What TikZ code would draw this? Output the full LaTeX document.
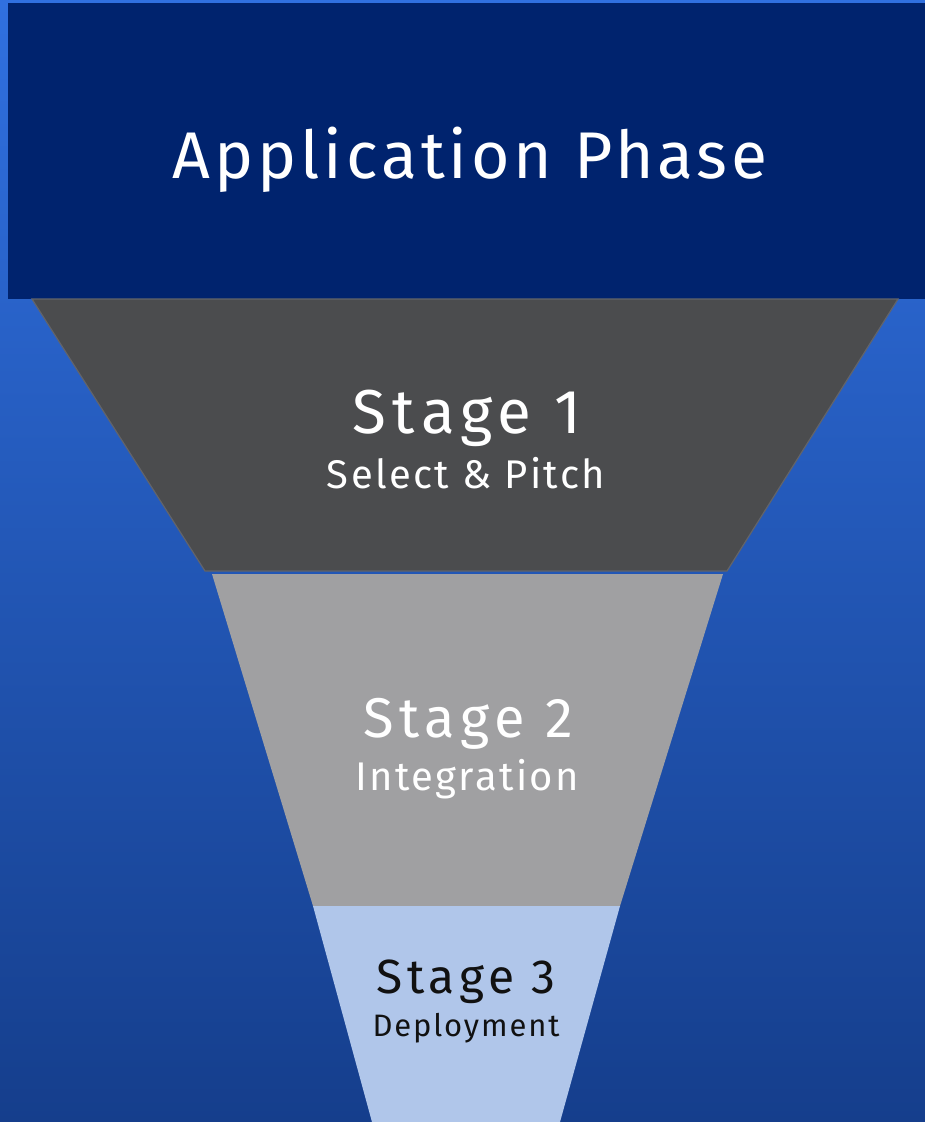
\documentclass[tikz,border=0pt]{standalone}
\usepackage{fontspec}
\setmainfont{Fira Sans}
\newfontfamily\funnelfont[LetterSpace=6]{Fira Sans}
\newfontfamily\stagefont[LetterSpace=10]{Fira Sans}
\usetikzlibrary{positioning}

\definecolor{bgtop}{HTML}{3070E0}
\definecolor{bgbottom}{HTML}{153E8C}
\definecolor{phase}{HTML}{00236E}
\definecolor{stageone}{HTML}{4B4C4E}
\definecolor{stageoneline}{HTML}{62646A}
\definecolor{stagetwo}{HTML}{A0A0A2}
\definecolor{stagethree}{HTML}{B0C6EA}
\definecolor{darktext}{HTML}{111111}

\begin{document}
\begin{tikzpicture}[x=1pt, y=-1pt,
    label/.style = {anchor=base, inner sep=0pt, font=\funnelfont},
    title/.style = {label, font=\stagefont\fontsize{56}{58}\selectfont},
    sub/.style = {label, font=\funnelfont\fontsize{40}{42}\selectfont}]

    \useasboundingbox (0,0) rectangle (925,1122);
    \shade[top color=bgtop, bottom color=bgbottom] (0,0) rectangle (925,1122);

    % phase box
    \fill[phase] (8,3) rectangle (925,299);
    \node[label, text=white, font=\funnelfont\fontsize{66}{68}\selectfont] (phase) at (470,178) {Application Phase};

    % funnel
    \filldraw[fill=stageone, draw=stageoneline, line width=1.2pt] (32,299) -- (898,299) -- (727,571) -- (205,571) -- cycle;
    \fill[stagetwo] (212,574) -- (723,574) -- (620,906) -- (313,906) -- cycle;
    \fill[stagethree] (313,906) -- (620,906) -- (560,1122) -- (372,1122) -- cycle;

    \node[title, text=white, font=\stagefont\fontsize{62}{64}\selectfont] (s1) at (467,433) {Stage 1};
    \node[sub, text=white] (s1sub) at (466,488) {Select \& Pitch};

    \node[title, text=white] (s2) at (468,737) {Stage 2};
    \node[sub, text=white] (s2sub) at (467,790) {Integration};

    \node[title, text=darktext, font=\stagefont\fontsize{48}{50}\selectfont] (s3) at (466,993) {Stage 3};
    \node[sub, text=darktext, font=\funnelfont\fontsize{31}{33}\selectfont] (s3sub) at (466,1036) {Deployment};

\end{tikzpicture}
\end{document}
